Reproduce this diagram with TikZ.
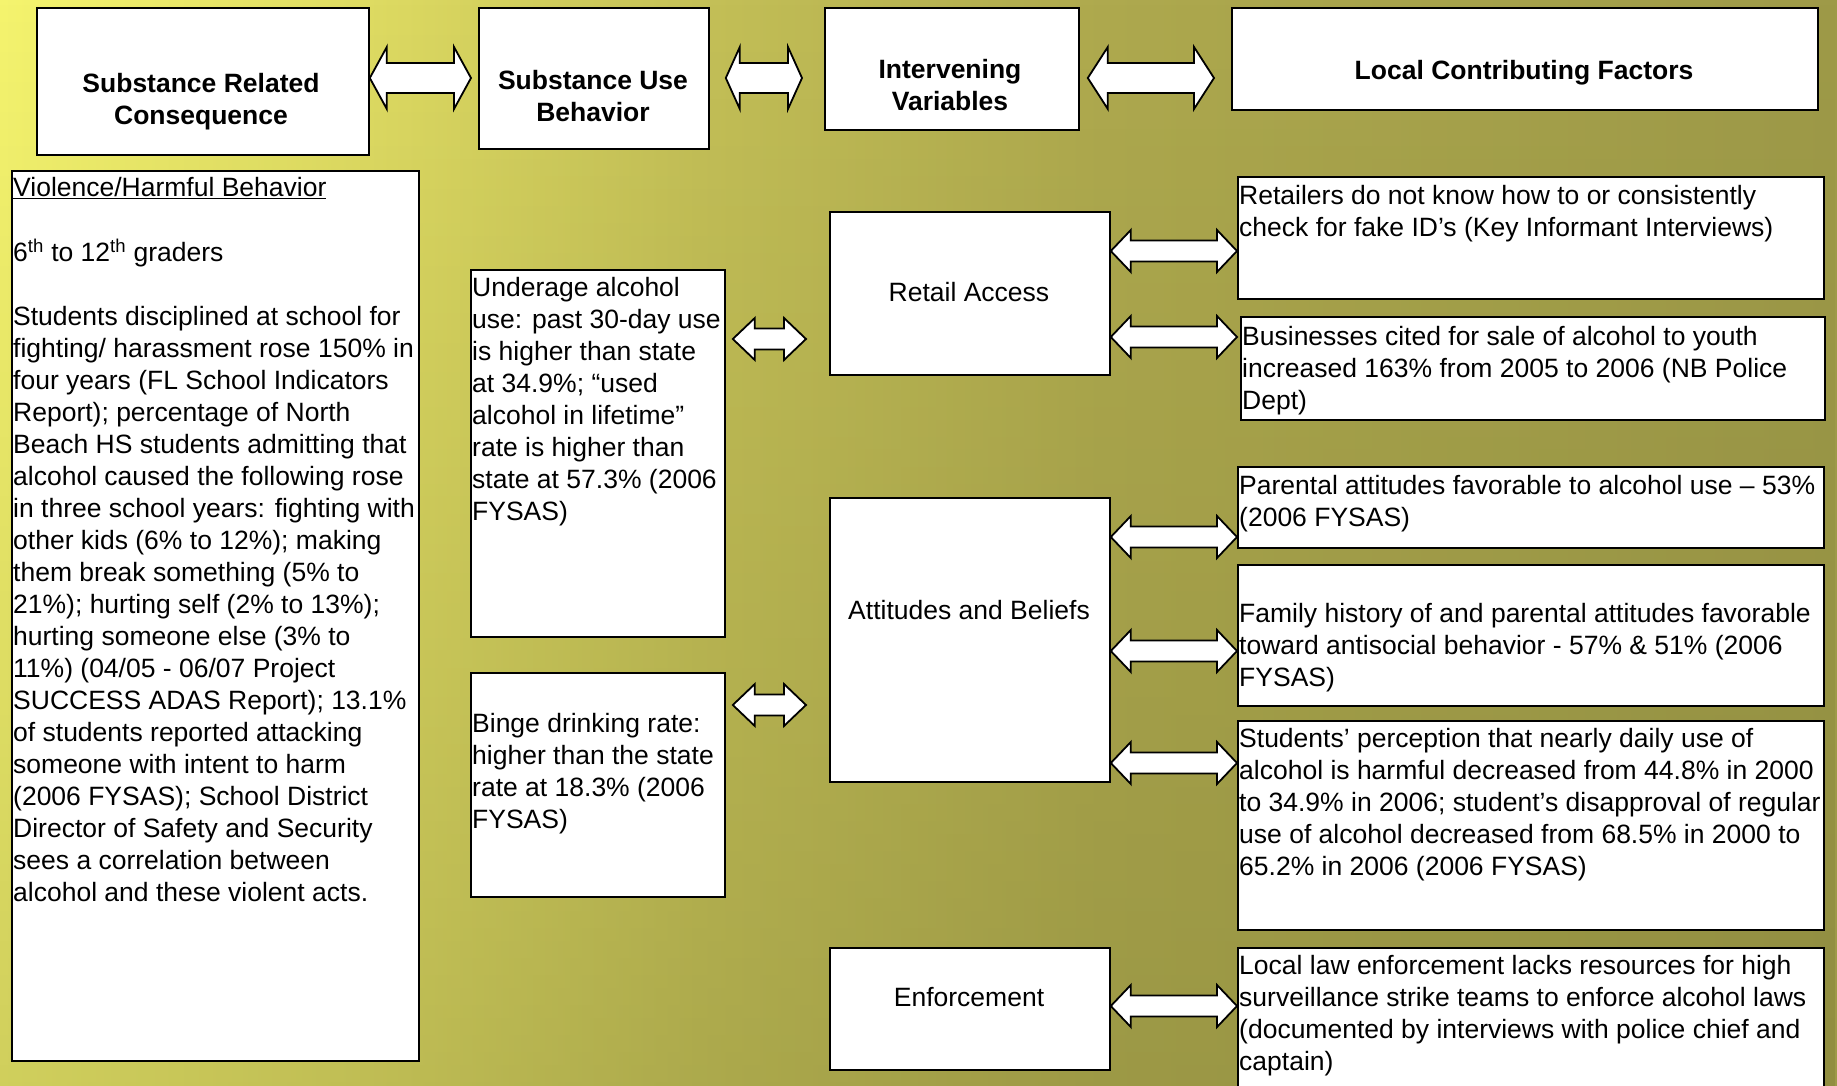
\documentclass[tikz,border=0pt]{standalone}
\usepackage{fontspec}
\setmainfont{Liberation Sans}
\usetikzlibrary{calc,fadings}
\definecolor{bgA}{HTML}{F5F46E}
\definecolor{bgB}{HTML}{DEDB62}
\definecolor{bgC}{HTML}{C4C057}
\definecolor{bgD}{HTML}{AEA94E}
\definecolor{bgE}{HTML}{9E9A48}
\definecolor{bgDark}{HTML}{707030}
\pgfdeclarehorizontalshading{bgshade}{100bp}{color(0bp)=(bgA); color(25bp)=(bgA); color(35bp)=(bgB); color(44bp)=(bgC); color(55bp)=(bgD); color(75bp)=(bgE); color(100bp)=(bgE)}
\tikzfading[name=fadedown, top color=transparent!100, bottom color=transparent!0]
\newcommand\fs{\fontsize{26.5}{32}\selectfont}
\newcommand\fatarrow[5]{%
  \draw[fatarr] let \p1=(#1), \p2=(#2) in
   (\x1,\y1) -- (\x1+#5,\y1+#3) -- (\x1+#5,\y1+#4) -- (\x2-#5,\y1+#4) -- (\x2-#5,\y1+#3) -- (\x2,\y1)
   -- (\x2-#5,\y1-#3) -- (\x2-#5,\y1-#4) -- (\x1+#5,\y1-#4) -- (\x1+#5,\y1-#3) -- cycle;}
\begin{document}
\begin{tikzpicture}[x=1pt,y=-1pt,
  box/.style={draw=black, line width=1.8pt, fill=white, inner sep=0pt, anchor=north west},
  tx/.style={anchor=north west, align=left, inner sep=0pt, font=\fs},
  hd/.style={align=center, inner sep=0pt, font=\fs\bfseries},
  lb/.style={inner sep=0pt, font=\fs},
  fatarr/.style={draw=black, line width=1.8pt, fill=white, line join=miter}]
\useasboundingbox (0,0) rectangle (1837,1086);
\clip (0,0) rectangle (1837,1086);
\shade[shading=bgshade, shading angle=0] (0,0) rectangle (1837,1086);
\fill[bgDark, path fading=fadedown, fill opacity=0.28] (0,0) rectangle (1837,1086);

% header boxes
\node[box, minimum width=332pt, minimum height=147pt] (src) at (36,7) {};
\node[box, minimum width=230pt, minimum height=141pt] (sub) at (478,7) {};
\node[box, minimum width=254pt, minimum height=122pt] (iv) at (824,7) {};
\node[box, minimum width=586pt, minimum height=102pt] (lcf) at (1231,7) {};
\node[hd] (t-src) at (201,101.5) {Substance Related\\Consequence};
\node[hd] (t-sub) at (593,96.5) {Substance Use\\Behavior};
\node[hd] (t-iv) at (950,85.5) {Intervening\\Variables};
\node[hd] (t-lcf) at (1524,72.5) {Local Contributing Factors};

% left column
\node[box, minimum width=407pt, minimum height=890pt] (viol) at (11,170) {};
\node[tx] (t-viol) at ([shift={(2,4)}]viol.north west) {\strut\underline{Violence/Harmful Behavior}\\[32pt]
6\textsuperscript{th} to 12\textsuperscript{th} graders\\[32pt]
Students disciplined at school for\\
fighting/ harassment rose 150\% in\\
four years (FL School Indicators\\
Report); percentage of North\\
Beach HS students admitting that\\
alcohol caused the following rose\\
in three school years: fighting with\\
other kids (6\% to 12\%); making\\
them break something (5\% to\\
21\%); hurting self (2\% to 13\%);\\
hurting someone else (3\% to\\
11\%) (04/05 - 06/07 Project\\
SUCCESS ADAS Report); 13.1\%\\
of students reported attacking\\
someone with intent to harm\\
(2006 FYSAS); School District\\
Director of Safety and Security\\
sees a correlation between\\
alcohol and these violent acts.};

% second column
\node[box, minimum width=254pt, minimum height=367pt] (und) at (470,269) {};
\node[tx] (t-und) at ([shift={(2,5)}]und.north west) {\strut Underage alcohol\\
use: past 30-day use\\
is higher than state\\
at 34.9\%; “used\\
alcohol in lifetime”\\
rate is higher than\\
state at 57.3\% (2006\\
FYSAS)};
\node[box, minimum width=254pt, minimum height=224pt] (binge) at (470,672) {};
\node[tx] (t-binge) at ([shift={(2,38)}]binge.north west) {\strut Binge drinking rate:\\
higher than the state\\
rate at 18.3\% (2006\\
FYSAS)};

% third column
\node[box, minimum width=280pt, minimum height=163pt] (retail) at (829,211) {};
\node[box, minimum width=280pt, minimum height=284pt] (att) at (829,497) {};
\node[box, minimum width=280pt, minimum height=122pt] (enf) at (829,947) {};
\node[lb] (t-retail) at (969,292) {Retail Access};
\node[lb] (t-att) at (969,610) {Attitudes and Beliefs};
\node[lb] (t-enf) at (969,997) {Enforcement};

% fourth column
\node[box, minimum width=586pt, minimum height=122pt] (ret) at (1237,176) {};
\node[tx] (t-ret) at ([shift={(2,5.6)}]ret.north west) {\strut Retailers do not know how to or consistently\\
check for fake ID’s (Key Informant Interviews)};
\node[box, minimum width=584pt, minimum height=103pt] (bus) at (1240,316) {};
\node[tx] (t-bus) at ([shift={(2,7)}]bus.north west) {\strut Businesses cited for sale of alcohol to youth\\
increased 163\% from 2005 to 2006 (NB Police\\
Dept)};
\node[box, minimum width=586pt, minimum height=81pt] (par) at (1237,466) {};
\node[tx] (t-par) at ([shift={(2,6)}]par.north west) {\strut Parental attitudes favorable to alcohol use – 53\%\\
(2006 FYSAS)};
\node[box, minimum width=586pt, minimum height=141pt] (fam) at (1237,564) {};
\node[tx] (t-fam) at ([shift={(2,36)}]fam.north west) {\strut Family history of and parental attitudes favorable\\
toward antisocial behavior - 57\% \& 51\% (2006\\
FYSAS)};
\node[box, minimum width=586pt, minimum height=209pt] (stu) at (1237,720) {};
\node[tx] (t-stu) at ([shift={(2,5)}]stu.north west) {\strut Students’ perception that nearly daily use of\\
alcohol is harmful decreased from 44.8\% in 2000\\
to 34.9\% in 2006; student’s disapproval of regular\\
use of alcohol decreased from 68.5\% in 2000 to\\
65.2\% in 2006 (2006 FYSAS)};
\node[box, minimum width=586pt, minimum height=160pt] (law) at (1237,947) {};
\node[tx] (t-law) at ([shift={(2,5)}]law.north west) {\strut Local law enforcement lacks resources for high\\
surveillance strike teams to enforce alcohol laws\\
(documented by interviews with police chief and\\
captain)};

% arrows
\coordinate (ra) at (0,78);
\coordinate (rb1) at (0,339);
\coordinate (rb2) at (0,705);
\coordinate (rc1) at (0,251);
\coordinate (rc2) at (0,337);
\coordinate (rc3) at (0,537);
\coordinate (rc4) at (0,651);
\coordinate (rc5) at (0,763);
\coordinate (rc6) at (0,1006);
\fatarrow{src.east|-ra}{$(sub.west|-ra)+(-7,0)$}{31pt}{15pt}{17pt}
\fatarrow{$(sub.east|-ra)+(16,0)$}{$(iv.west|-ra)+(-22,0)$}{31pt}{15pt}{14pt}
\fatarrow{$(iv.east|-ra)+(8,0)$}{$(lcf.west|-ra)+(-17,0)$}{31pt}{15pt}{20pt}
\fatarrow{$(und.east|-rb1)+(7,0)$}{$(retail.west|-rb1)+(-23,0)$}{21pt}{10.5pt}{22pt}
\fatarrow{$(binge.east|-rb2)+(7,0)$}{$(att.west|-rb2)+(-23,0)$}{21pt}{10.5pt}{22pt}
\fatarrow{retail.east|-rc1}{ret.west|-rc1}{21pt}{10.5pt}{20pt}
\fatarrow{retail.east|-rc2}{$(bus.west|-rc2)+(-3,0)$}{21pt}{10.5pt}{20pt}
\fatarrow{att.east|-rc3}{par.west|-rc3}{21pt}{10.5pt}{20pt}
\fatarrow{att.east|-rc4}{fam.west|-rc4}{21pt}{10.5pt}{20pt}
\fatarrow{att.east|-rc5}{stu.west|-rc5}{21pt}{10.5pt}{20pt}
\fatarrow{enf.east|-rc6}{law.west|-rc6}{21pt}{10.5pt}{20pt}
\end{tikzpicture}
\end{document}
